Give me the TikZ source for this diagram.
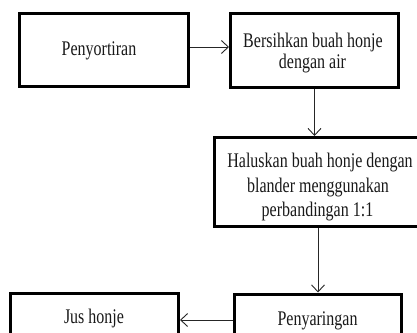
\documentclass[tikz,border=0pt]{standalone}
\usepackage{fontspec}
\setmainfont{Liberation Serif}
\usetikzlibrary{arrows.meta}
\newcommand\tallt[1]{\scalebox{1}[1.3]{#1}}
\begin{document}
\begin{tikzpicture}[x=1pt,y=-1pt,
  box/.style={draw=black, line width=3pt, rectangle, inner sep=0pt},
  txt/.style={anchor=base, inner sep=0pt, text=black!90, font=\fontsize{16}{16}\selectfont},
  conn/.style={draw=black!85, line width=0.9pt, -{Straight Barb[length=7pt,width=13pt]}}]
\useasboundingbox (0,0) rectangle (417,332);
\clip (0,0) rectangle (417,332);
\fill[white] (0,0) rectangle (417,332);
\node[box, minimum width=169pt, minimum height=73pt] (b1) at (104,50) {};
\node[box, minimum width=168pt, minimum height=74pt] (b2) at (314.5,50.5) {};
\node[box, minimum width=209pt, minimum height=89pt] (b3) at (319,182) {};
\node[box, minimum width=167pt, minimum height=52pt] (b4) at (318,320) {};
\node[box, minimum width=168pt, minimum height=53pt] (b5) at (94.5,319.5) {};
\node[txt] (t1) at (99,55.5) {\tallt{Penyortiran}};
\node[txt] (t2a) at (313,47.5) {\tallt{Bersihkan buah honje}};
\node[txt] (t2b) at (312.5,68.5) {\tallt{dengan air}};
\node[txt] (t3a) at (320,167) {\tallt{Haluskan buah honje dengan}};
\node[txt] (t3b) at (318,192) {\tallt{blander menggunakan}};
\node[txt] (t3c) at (317.5,216) {\tallt{perbandingan 1:1}};
\node[txt] (t4) at (317.5,325) {\tallt{Penyaringan}};
\node[txt] (t5) at (94,323) {\tallt{Jus honje}};
\draw[conn] ([yshift=3pt]b1.east) -- ([yshift=3pt]b1.east -| b2.west);
\draw[conn] (b2.south) -- (b2.south |- b3.north);
\draw[conn] (b3.south -| b4.north) -- (b4.north);
\draw[conn] (b4.west) -- (b4.west -| b5.east);
\end{tikzpicture}
\end{document}
